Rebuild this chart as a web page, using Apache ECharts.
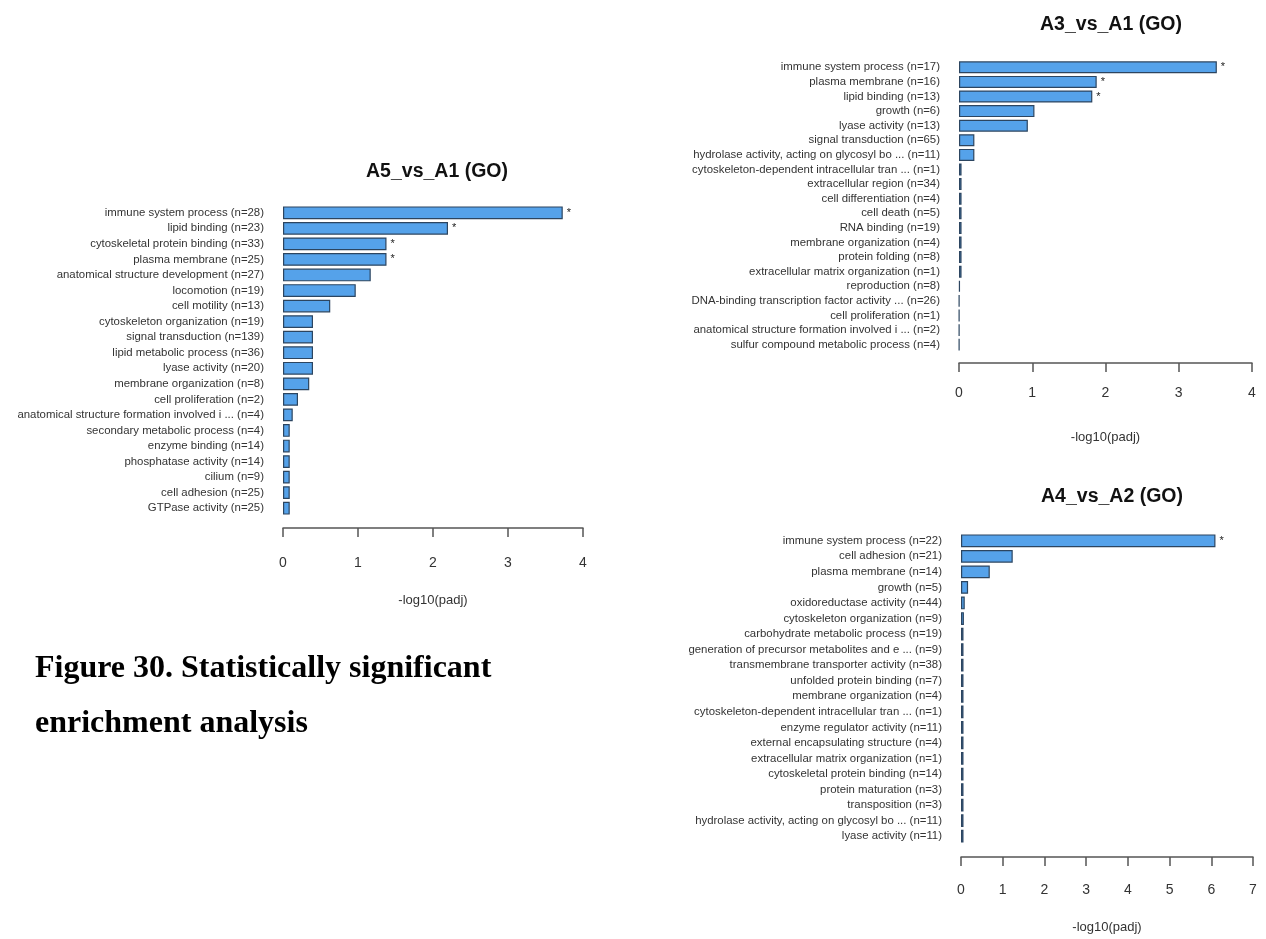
<!DOCTYPE html>
<html style="height: 100%">
<head>
    <meta charset="utf-8">
    <script src="https://cdn.jsdelivr.net/npm/echarts@6/dist/echarts.min.js"></script>
</head>
<body style="height: 100%; margin: 0; background: #fff">
    <div id="main" style="width:1266px;height:939px;"></div>
    <script type="text/javascript">
    // A5_vs_A1
    var a5Terms = ['immune system process (n=28)', 'lipid binding (n=23)', 'cytoskeletal protein binding (n=33)',
        'plasma membrane (n=25)', 'anatomical structure development (n=27)', 'locomotion (n=19)',
        'cell motility (n=13)', 'cytoskeleton organization (n=19)', 'signal transduction (n=139)',
        'lipid metabolic process (n=36)', 'lyase activity (n=20)', 'membrane organization (n=8)',
        'cell proliferation (n=2)', 'anatomical structure formation involved i ... (n=4)',
        'secondary metabolic process (n=4)', 'enzyme binding (n=14)', 'phosphatase activity (n=14)',
        'cilium (n=9)', 'cell adhesion (n=25)', 'GTPase activity (n=25)'];
    var a5Values = [3.73, 2.2, 1.38, 1.38, 1.17, 0.97, 0.63, 0.4, 0.4, 0.4, 0.4, 0.35, 0.2, 0.13, 0.09, 0.09, 0.09, 0.09, 0.09, 0.09];
    var a5Sig = [1, 1, 1, 1, 0, 0, 0, 0, 0, 0, 0, 0, 0, 0, 0, 0, 0, 0, 0, 0];

    // A3_vs_A1
    var a3Terms = ['immune system process (n=17)', 'plasma membrane (n=16)', 'lipid binding (n=13)',
        'growth (n=6)', 'lyase activity (n=13)', 'signal transduction (n=65)',
        'hydrolase activity, acting on glycosyl bo ... (n=11)', 'cytoskeleton-dependent intracellular tran ... (n=1)',
        'extracellular region (n=34)', 'cell differentiation (n=4)', 'cell death (n=5)', 'RNA binding (n=19)',
        'membrane organization (n=4)', 'protein folding (n=8)', 'extracellular matrix organization (n=1)',
        'reproduction (n=8)', 'DNA-binding transcription factor activity ... (n=26)', 'cell proliferation (n=1)',
        'anatomical structure formation involved i ... (n=2)', 'sulfur compound metabolic process (n=4)'];
    var a3Values = [3.52, 1.88, 1.82, 1.03, 0.94, 0.21, 0.21, 0.035, 0.035, 0.035, 0.035, 0.035, 0.035, 0.035, 0.035, 0.012, 0.003, 0.003, 0.003, 0.003];
    var a3Sig = [1, 1, 1, 0, 0, 0, 0, 0, 0, 0, 0, 0, 0, 0, 0, 0, 0, 0, 0, 0];

    // A4_vs_A2
    var a4Terms = ['immune system process (n=22)', 'cell adhesion (n=21)', 'plasma membrane (n=14)', 'growth (n=5)',
        'oxidoreductase activity (n=44)', 'cytoskeleton organization (n=9)', 'carbohydrate metabolic process (n=19)',
        'generation of precursor metabolites and e ... (n=9)', 'transmembrane transporter activity (n=38)',
        'unfolded protein binding (n=7)', 'membrane organization (n=4)',
        'cytoskeleton-dependent intracellular tran ... (n=1)', 'enzyme regulator activity (n=11)',
        'external encapsulating structure (n=4)', 'extracellular matrix organization (n=1)',
        'cytoskeletal protein binding (n=14)', 'protein maturation (n=3)', 'transposition (n=3)',
        'hydrolase activity, acting on glycosyl bo ... (n=11)', 'lyase activity (n=11)'];
    var a4Values = [6.1, 1.24, 0.69, 0.17, 0.09, 0.07, 0.06, 0.06, 0.06, 0.06, 0.06, 0.06, 0.06, 0.06, 0.06, 0.06, 0.06, 0.06, 0.06, 0.06];
    var a4Sig = [1, 0, 0, 0, 0, 0, 0, 0, 0, 0, 0, 0, 0, 0, 0, 0, 0, 0, 0, 0];

    var myChart = echarts.init(document.getElementById('main'));

    var sans = 'Liberation Sans, Arial, sans-serif';

    function makeTitle(text, cx, top) {
        return {
            text: text, left: cx, top: top, textAlign: 'center',
            textStyle: { fontFamily: sans, fontSize: 19.5, fontWeight: 'bold', color: '#111' }
        };
    }

    // offset: gap from plot bottom to axis line, margin: line to tick labels
    function makeX(idx, max, offset, margin, gap) {
        return {
            gridIndex: idx, type: 'value', min: 0, max: max, interval: 1,
            offset: offset,
            name: '-log10(padj)', nameLocation: 'middle', nameGap: gap,
            nameTextStyle: { fontFamily: sans, fontSize: 13, color: '#333' },
            axisLine: { show: true, lineStyle: { color: '#555', width: 1.5 } },
            axisTick: { show: true, length: 9, lineStyle: { color: '#555', width: 1.5 } },
            axisLabel: { fontFamily: sans, fontSize: 14, color: '#333', margin: margin },
            splitLine: { show: false }
        };
    }

    function makeY(idx, terms) {
        return {
            gridIndex: idx, type: 'category', inverse: true, data: terms,
            axisLine: { show: false }, axisTick: { show: false },
            axisLabel: { fontFamily: sans, fontSize: 11.4, color: '#333', margin: 19, interval: 0 }
        };
    }

    function makeSeries(idx, values, sig) {
        return {
            type: 'bar', xAxisIndex: idx, yAxisIndex: idx, data: values,
            barCategoryGap: '18%',
            itemStyle: { color: '#55a2ea', borderColor: '#2c4560', borderWidth: 1.2 },
            label: {
                show: true, position: 'right', distance: 4,
                fontFamily: sans, fontSize: 11, color: '#222',
                formatter: function (p) { return sig[p.dataIndex] ? '*' : ''; }
            },
            silent: true, animation: false
        };
    }

    var option = {
        backgroundColor: '#fff',
        title: [
            makeTitle('A5_vs_A1 (GO)', 432, 157),
            makeTitle('A3_vs_A1 (GO)', 1106, 10),
            makeTitle('A4_vs_A2 (GO)', 1107, 482),
            {
                text: 'Figure 30. Statistically significant\nenrichment analysis',
                left: 30, top: 636,
                textStyle: { fontFamily: 'Liberation Serif, Times New Roman, serif', fontSize: 32, fontWeight: 'bold', color: '#000', lineHeight: 55 }
            }
        ],
        grid: [
            { left: 283, width: 300, top: 205, height: 311 },
            { left: 959, width: 293, top: 60, height: 292 },
            { left: 961, width: 292, top: 533, height: 311 }
        ],
        xAxis: [makeX(0, 4, 12, 28, 66), makeX(1, 4, 11, 23, 68), makeX(2, 7, 13, 26, 64)],
        yAxis: [makeY(0, a5Terms), makeY(1, a3Terms), makeY(2, a4Terms)],
        series: [makeSeries(0, a5Values, a5Sig), makeSeries(1, a3Values, a3Sig), makeSeries(2, a4Values, a4Sig)]
    };
    myChart.setOption(option);
    </script>
</body>
</html>
